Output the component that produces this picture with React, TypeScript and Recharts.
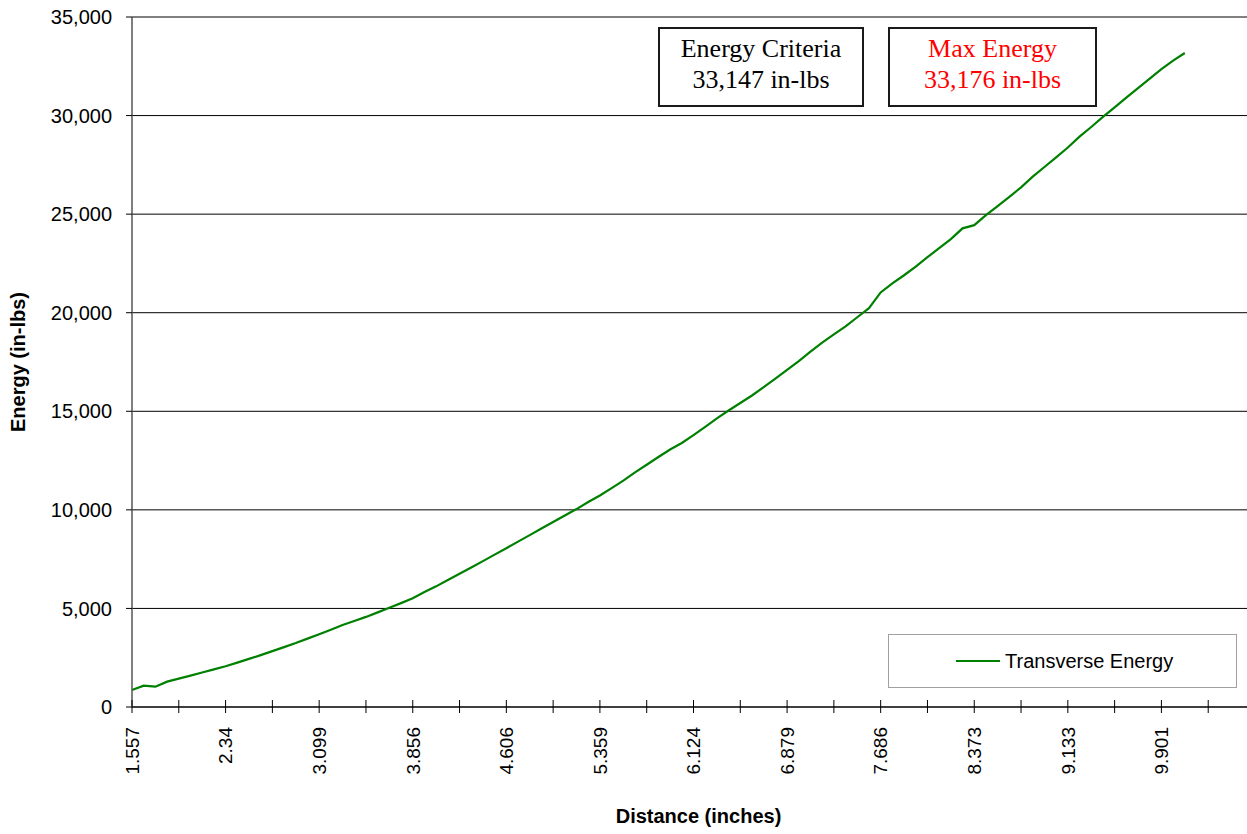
import React from "react"
import { CartesianGrid, Legend, Line, LineChart, XAxis, YAxis } from "recharts"

// distance (inches) for each sample; only every 8th one gets a label
const distances = [
  "1.557", "1.655", "1.753", "1.851", "1.949", "2.046", "2.144", "2.242",
  "2.34", "2.435", "2.530", "2.625", "2.720", "2.814", "2.909", "3.004",
  "3.099", "3.194", "3.288", "3.383", "3.477", "3.572", "3.667", "3.761",
  "3.856", "3.950", "4.043", "4.137", "4.231", "4.325", "4.418", "4.512",
  "4.606", "4.700", "4.794", "4.888", "4.982", "5.077", "5.171", "5.265",
  "5.359", "5.455", "5.550", "5.646", "5.742", "5.837", "5.933", "6.028",
  "6.124", "6.218", "6.313", "6.407", "6.502", "6.596", "6.690", "6.785",
  "6.879", "6.980", "7.081", "7.182", "7.283", "7.383", "7.484", "7.585",
  "7.686", "7.772", "7.858", "7.944", "8.030", "8.115", "8.201", "8.287",
  "8.373", "8.468", "8.563", "8.658", "8.753", "8.848", "8.943", "9.038",
  "9.133", "9.229", "9.325", "9.421", "9.517", "9.613", "9.709", "9.805",
  "9.901", "9.997", "10.093", "10.189", "10.285", "10.381", "10.477", "10.573",
  "10.669",
]

// transverse energy (in-lbs)
const transverseEnergy = [
  860, 1080, 1030, 1287, 1440, 1593, 1749, 1910,
  2070, 2249, 2440, 2630, 2833, 3039, 3245, 3469,
  3695, 3922, 4160, 4361, 4570, 4800, 5030, 5270,
  5520, 5830, 6120, 6440, 6755, 7075, 7400, 7730,
  8055, 8390, 8720, 9050, 9380, 9710, 10040, 10397,
  10730, 11100, 11480, 11900, 12290, 12680, 13060, 13390,
  13790, 14210, 14640, 15040, 15420, 15800, 16220, 16660,
  17100, 17540, 18030, 18480, 18900, 19310, 19770, 20230,
  21030, 21490, 21900, 22340, 22815, 23280, 23735, 24280,
  24440, 24950, 25410, 25880, 26360, 26900, 27390, 27880,
  28380, 28930, 29420, 29930, 30420, 30910, 31390, 31870,
  32355, 32790, 33176,
]

const energyTicks = [0, 5000, 10000, 15000, 20000, 25000, 30000, 35000]

const criteria = ["Energy Criteria", "33,147 in-lbs"]
const maxEnergy = ["Max Energy", "33,176 in-lbs"]

const data = distances.map((d, i) => ({
  distance: d,
  energy: i < transverseEnergy.length ? transverseEnergy[i] : null,
}))
const measured = new Set(distances.slice(0, transverseEnergy.length))

const SANS = "'Liberation Sans', Arial, sans-serif"
const SERIF = "'Liberation Serif', 'Times New Roman', serif"

function DistanceTick(props: any) {
  const { x, y, payload, index } = props
  const axisY = y - 20
  const showLabel = index % 2 === 0 && measured.has(payload.value)
  return (
    <g>
      <line x1={x} x2={x} y1={axisY - 7} y2={axisY} stroke="#000" />
      {showLabel && (
        <text
          x={x}
          y={y}
          dy="0.36em"
          transform={`rotate(-90, ${x}, ${y})`}
          textAnchor="end"
          fontSize={19}
          fontFamily={SANS}
          fill="#000"
        >
          {payload.value}
        </text>
      )}
    </g>
  )
}

function YTitle(props: any) {
  const { viewBox } = props
  const cx = viewBox.x + 25
  const cy = viewBox.y + viewBox.height / 2
  return (
    <text
      x={cx}
      y={cy}
      transform={`rotate(-90, ${cx}, ${cy})`}
      textAnchor="middle"
      fontWeight="bold"
      fontSize={20}
      fontFamily={SANS}
      fill="#000"
    >
      Energy (in-lbs)
    </text>
  )
}

function XTitle(props: any) {
  const { viewBox } = props
  return (
    <text
      x={viewBox.x + viewBox.width / 2 + 5}
      y={viewBox.y + viewBox.height - 11}
      textAnchor="middle"
      fontWeight="bold"
      fontSize={20}
      fontFamily={SANS}
      fill="#000"
    >
      Distance (inches)
    </text>
  )
}

function LegendBox(props: any) {
  const item = props.payload?.[0]
  return (
    <div
      style={{
        boxSizing: "border-box",
        width: 349,
        height: 54,
        border: "1.5px solid #a0a0a0",
        background: "#fff",
        display: "flex",
        alignItems: "center",
        paddingLeft: 67,
        fontFamily: SANS,
        fontSize: 20,
        color: "#000",
      }}
    >
      <span style={{ width: 44, height: 2, background: item?.color, marginRight: 5 }} />
      <span>{item?.value}</span>
    </div>
  )
}

function Note({ lines, color, left, width }: { lines: string[]; color: string; left: number; width: number }) {
  return (
    <div
      style={{
        position: "absolute",
        left,
        top: 27,
        width,
        height: 80,
        boxSizing: "border-box",
        border: "2px solid #1a1a1a",
        background: "#fff",
        paddingTop: 4,
        textAlign: "center",
        fontFamily: SERIF,
        fontSize: 26,
        lineHeight: "31px",
        color,
      }}
    >
      {lines.map((l) => (
        <div key={l}>{l}</div>
      ))}
    </div>
  )
}

export default function App() {
  return (
    <div
      style={{
        position: "absolute",
        left: 0,
        top: 0,
        width: 1247,
        height: 834,
        overflow: "hidden",
        background: "#fff",
        fontFamily: SANS,
      }}
    >
      <LineChart
        width={1255}
        height={834}
        data={data}
        margin={{ top: 17, right: 0, bottom: 0, left: 0 }}
      >
        <CartesianGrid vertical={false} stroke="#000" strokeOpacity={1} />
        <XAxis
          dataKey="distance"
          type="category"
          interval={3}
          height={127}
          tickSize={6}
          tickMargin={14}
          tick={<DistanceTick />}
          tickLine={{ stroke: "#000" }}
          axisLine={{ stroke: "#000" }}
          label={XTitle}
        />
        <YAxis
          domain={[0, 35000]}
          ticks={energyTicks}
          width={132}
          tickSize={6}
          tickMargin={14}
          tickFormatter={(v: number) => v.toLocaleString("en-US")}
          tick={{ fontSize: 20, fill: "#000", fontFamily: SANS }}
          tickLine={{ stroke: "#000" }}
          axisLine={{ stroke: "#555", strokeWidth: 1.5 }}
          label={YTitle}
        />
        <Legend
          layout="vertical"
          align="center"
          verticalAlign="middle"
          content={<LegendBox />}
          wrapperStyle={{ left: 888, top: 634, width: 349, height: 54 }}
        />
        <Line
          type="linear"
          dataKey="energy"
          name="Transverse Energy"
          stroke="#008000"
          strokeWidth={2.2}
          dot={false}
          activeDot={false}
          connectNulls={false}
          isAnimationActive={false}
        />
      </LineChart>
      <Note lines={criteria} color="#000" left={658} width={206} />
      <Note lines={maxEnergy} color="#ff0000" left={888} width={209} />
    </div>
  )
}
